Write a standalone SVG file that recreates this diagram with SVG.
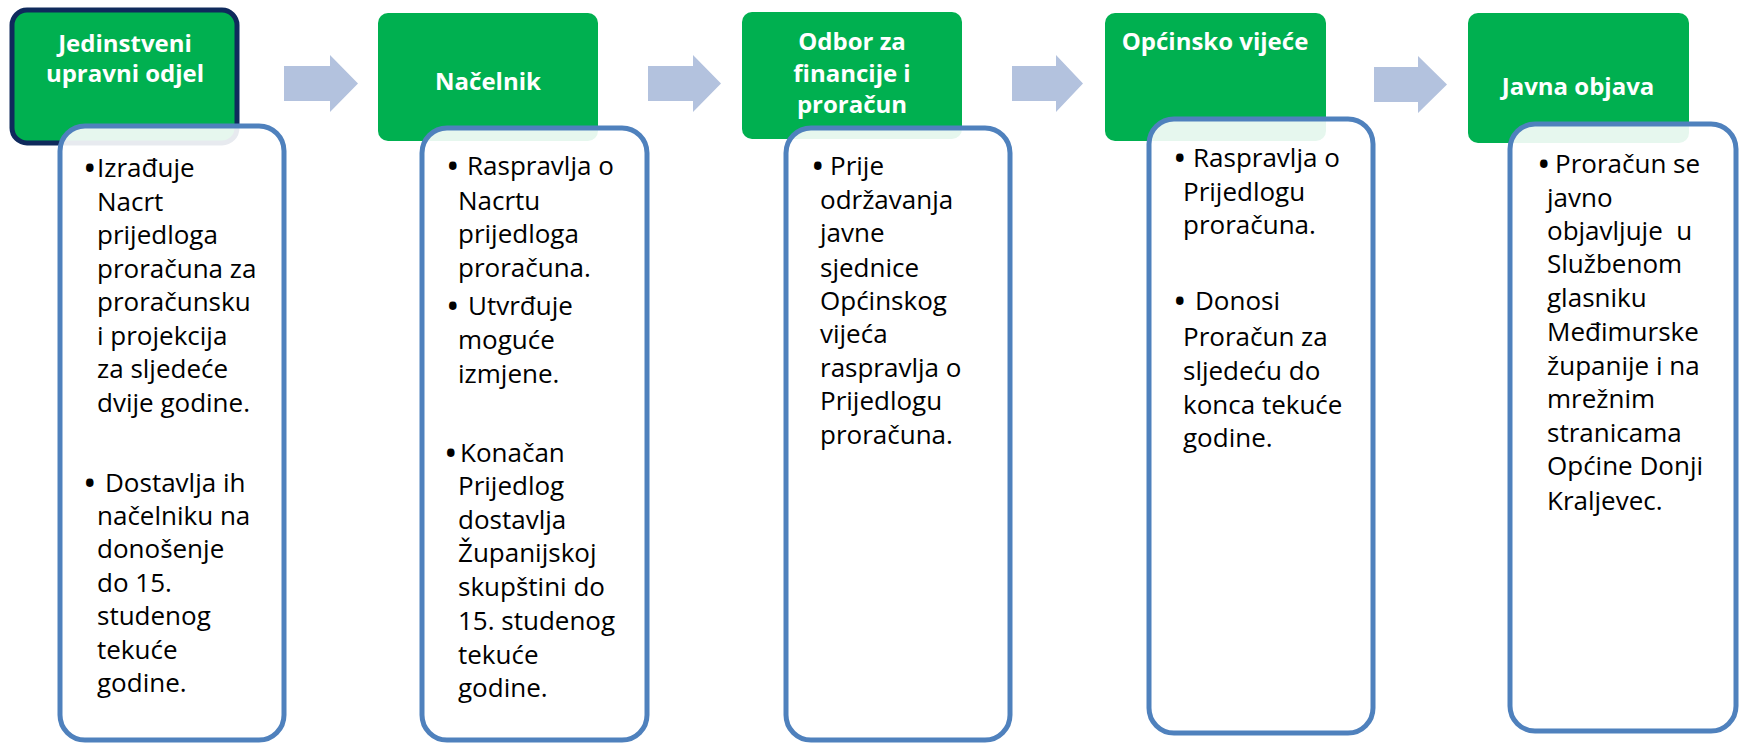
<svg xmlns="http://www.w3.org/2000/svg" width="1743" height="744" viewBox="0 0 1743 744">
<style>
.hdr{fill:#00B050;}
.hdr1{fill:#00B050;stroke:#0F2A5C;stroke-width:5;}
.det{fill:#FFFFFF;fill-opacity:0.9;stroke:#4F81BD;stroke-width:5;}
.ht{font-family:"Open Sans","Noto Sans","DejaVu Sans",sans-serif;font-weight:bold;font-size:24px;fill:#FFFFFF;text-anchor:middle;}
.bt{font-family:"Open Sans","Noto Sans","DejaVu Sans",sans-serif;font-size:26px;fill:#000000;}
.bu{font-family:"Open Sans","Noto Sans","DejaVu Sans",sans-serif;font-size:36px;fill:#000000;}
.arr{fill:#B3C2DE;}
</style>
<rect width="1743" height="744" fill="#FFFFFF"/>
<g id="connectors">
<polygon class="arr" points="284,66 330,66 330,55 358,83.5 330,112 330,101 284,101"/>
<polygon class="arr" points="648,66 693,66 693,55 721,83.5 693,112 693,101 648,101"/>
<polygon class="arr" points="1012,66 1056,66 1056,55 1083,83.5 1056,112 1056,101 1012,101"/>
<polygon class="arr" points="1374,67 1418,67 1418,56 1447,84.5 1418,113 1418,102 1374,102"/>
</g>
<g id="node-jedinstveni">
<rect class="hdr1" x="12" y="10" width="225" height="133" rx="15"/>
<text class="ht"><tspan x="125" y="52">Jedinstveni</tspan><tspan x="125" y="82">upravni odjel</tspan></text>
<rect class="det" x="60" y="126" width="224" height="614" rx="25"/>
<text class="bu"><tspan x="83" y="181">•</tspan><tspan x="83" y="496">•</tspan></text>
<text class="bt"><tspan x="97" y="177">Izrađuje</tspan><tspan x="97" y="211">Nacrt</tspan><tspan x="97" y="244">prijedloga</tspan><tspan x="97" y="278">proračuna za</tspan><tspan x="97" y="311">proračunsku</tspan><tspan x="97" y="345">i projekcija</tspan><tspan x="97" y="378">za sljedeće</tspan><tspan x="97" y="412">dvije godine.</tspan><tspan x="105" y="492">Dostavlja ih</tspan><tspan x="97" y="525">načelniku na</tspan><tspan x="97" y="558">donošenje</tspan><tspan x="97" y="592">do 15.</tspan><tspan x="97" y="625">studenog</tspan><tspan x="97" y="659">tekuće</tspan><tspan x="97" y="692">godine.</tspan></text>
</g>
<g id="node-nacelnik">
<rect class="hdr" x="378" y="13" width="220" height="128" rx="10"/>
<text class="ht"><tspan x="488" y="90">Načelnik</tspan></text>
<rect class="det" x="422" y="128" width="225" height="612" rx="25"/>
<text class="bu"><tspan x="446" y="179">•</tspan><tspan x="446" y="319">•</tspan><tspan x="444" y="466">•</tspan></text>
<text class="bt"><tspan x="467" y="175">Raspravlja o</tspan><tspan x="458" y="210">Nacrtu</tspan><tspan x="458" y="243">prijedloga</tspan><tspan x="458" y="277">proračuna.</tspan><tspan x="468" y="315">Utvrđuje</tspan><tspan x="458" y="349">moguće</tspan><tspan x="458" y="383">izmjene.</tspan><tspan x="460" y="462">Konačan</tspan><tspan x="458" y="495">Prijedlog</tspan><tspan x="458" y="529">dostavlja</tspan><tspan x="458" y="562">Županijskoj</tspan><tspan x="458" y="596">skupštini do</tspan><tspan x="458" y="630">15. studenog</tspan><tspan x="458" y="664">tekuće</tspan><tspan x="458" y="697">godine.</tspan></text>
</g>
<g id="node-odbor">
<rect class="hdr" x="742" y="12" width="220" height="127" rx="10"/>
<text class="ht"><tspan x="852" y="50">Odbor za</tspan><tspan x="852" y="82">financije i</tspan><tspan x="852" y="113">proračun</tspan></text>
<rect class="det" x="786" y="128" width="224" height="612" rx="25"/>
<text class="bu"><tspan x="811" y="179">•</tspan></text>
<text class="bt"><tspan x="830" y="175">Prije</tspan><tspan x="820" y="209">održavanja</tspan><tspan x="820" y="242">javne</tspan><tspan x="820" y="277">sjednice</tspan><tspan x="820" y="310">Općinskog</tspan><tspan x="820" y="343">vijeća</tspan><tspan x="820" y="377">raspravlja o</tspan><tspan x="820" y="410">Prijedlogu</tspan><tspan x="820" y="444">proračuna.</tspan></text>
</g>
<g id="node-vijece">
<rect class="hdr" x="1105" y="13" width="221" height="128" rx="10"/>
<text class="ht"><tspan x="1215" y="50">Općinsko vijeće</tspan></text>
<rect class="det" x="1149" y="119" width="224" height="614" rx="25"/>
<text class="bu"><tspan x="1173" y="171">•</tspan><tspan x="1173" y="314">•</tspan></text>
<text class="bt"><tspan x="1193" y="167">Raspravlja o</tspan><tspan x="1183" y="201">Prijedlogu</tspan><tspan x="1183" y="234">proračuna.</tspan><tspan x="1195" y="310">Donosi</tspan><tspan x="1183" y="346">Proračun za</tspan><tspan x="1183" y="380">sljedeću do</tspan><tspan x="1183" y="414">konca tekuće</tspan><tspan x="1183" y="447">godine.</tspan></text>
</g>
<g id="node-objava">
<rect class="hdr" x="1468" y="13" width="221" height="130" rx="10"/>
<text class="ht"><tspan x="1578" y="95">Javna objava</tspan></text>
<rect class="det" x="1510" y="124" width="226" height="607" rx="25"/>
<text class="bu"><tspan x="1537" y="177">•</tspan></text>
<text class="bt"><tspan x="1555" y="173">Proračun se</tspan><tspan x="1547" y="207">javno</tspan><tspan x="1547" y="240">objavljuje&#160; u</tspan><tspan x="1547" y="273">Službenom</tspan><tspan x="1547" y="307">glasniku</tspan><tspan x="1547" y="341">Međimurske</tspan><tspan x="1547" y="375">županije i na</tspan><tspan x="1547" y="408">mrežnim</tspan><tspan x="1547" y="442">stranicama</tspan><tspan x="1547" y="475">Općine Donji</tspan><tspan x="1547" y="510">Kraljevec.</tspan></text>
</g>
</svg>
